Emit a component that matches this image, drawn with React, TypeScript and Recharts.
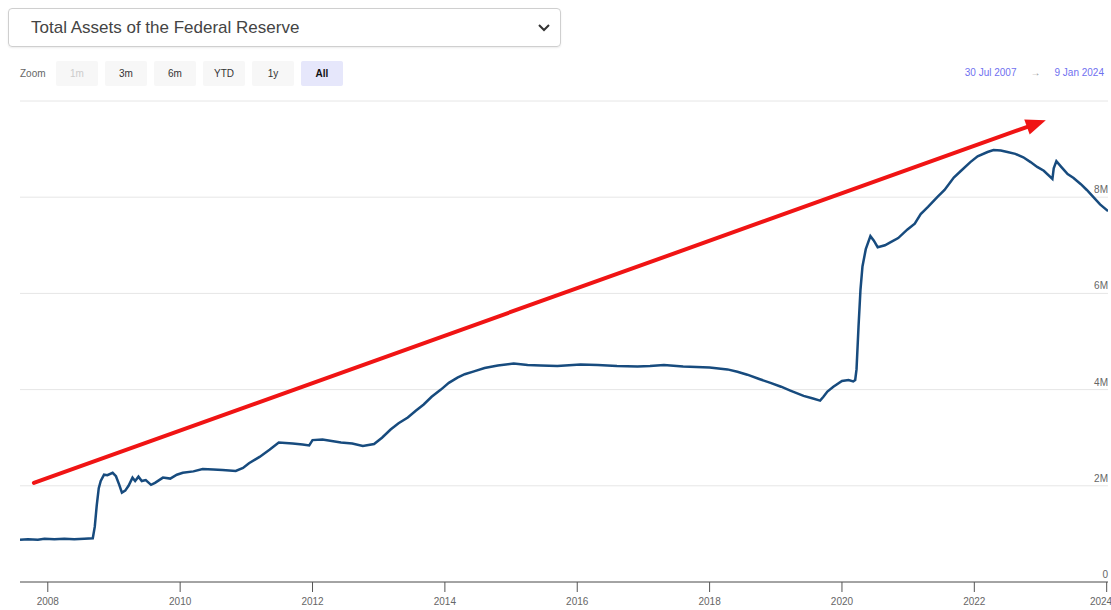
import React from "react";
import {
  LineChart,
  Line,
  XAxis,
  YAxis,
  CartesianGrid,
  ReferenceLine,
} from "recharts";

// decimal years, weekly data thinned to the visible shape
const dates = [
  2007.58, 2007.7, 2007.85, 2007.95, 2008.1, 2008.25, 2008.4, 2008.55, 2008.68,
  2008.71, 2008.74, 2008.77, 2008.8, 2008.85, 2008.9, 2008.98, 2009.03, 2009.08,
  2009.12, 2009.17, 2009.22, 2009.28, 2009.32, 2009.37, 2009.42, 2009.48, 2009.56,
  2009.62, 2009.74, 2009.85, 2009.95, 2010.04, 2010.2, 2010.34, 2010.5, 2010.64,
  2010.84, 2010.95, 2011.04, 2011.2, 2011.35, 2011.49, 2011.7, 2011.85, 2011.95,
  2012.0, 2012.15, 2012.43, 2012.6, 2012.76, 2012.93, 2013.05, 2013.18, 2013.3,
  2013.44, 2013.56, 2013.68, 2013.8, 2013.94, 2014.06, 2014.19, 2014.3, 2014.44,
  2014.6, 2014.8, 2015.04, 2015.25, 2015.45, 2015.7, 2016.05, 2016.31, 2016.6,
  2016.91, 2017.1, 2017.31, 2017.6, 2017.8, 2018.0, 2018.27, 2018.42, 2018.57,
  2018.75, 2018.92, 2019.08, 2019.22, 2019.42, 2019.55, 2019.67, 2019.72, 2019.78,
  2019.87, 2020.0, 2020.1, 2020.17, 2020.2, 2020.22, 2020.25, 2020.28, 2020.31,
  2020.36, 2020.43, 2020.48, 2020.54, 2020.65, 2020.73, 2020.85, 2020.99, 2021.1,
  2021.19, 2021.3, 2021.44, 2021.55, 2021.69, 2021.8, 2021.94, 2022.05, 2022.2,
  2022.29, 2022.4, 2022.5, 2022.62, 2022.74, 2022.85, 2022.95, 2023.05, 2023.18,
  2023.2, 2023.24, 2023.32, 2023.41, 2023.5, 2023.61, 2023.7, 2023.8, 2023.9,
  2024.02,
];

// total assets, millions of millions (M)
const assets = [
  0.88, 0.89, 0.88, 0.9, 0.89, 0.9, 0.89, 0.9, 0.91,
  1.15, 1.6, 1.95, 2.1, 2.23, 2.22, 2.27, 2.2, 2.02,
  1.86, 1.9, 2.0, 2.17, 2.1, 2.19, 2.1, 2.12, 2.02,
  2.06, 2.17, 2.15, 2.23, 2.27, 2.3, 2.35, 2.34, 2.33,
  2.31, 2.37, 2.47, 2.6, 2.75, 2.9, 2.88, 2.86, 2.84,
  2.95, 2.96, 2.9, 2.88, 2.83, 2.87, 3.0, 3.17, 3.3,
  3.42, 3.56, 3.69, 3.85, 4.0, 4.14, 4.25, 4.32, 4.38,
  4.45, 4.5, 4.54, 4.51, 4.5, 4.49, 4.52, 4.51, 4.49,
  4.48, 4.49, 4.51, 4.48, 4.47, 4.46, 4.42, 4.37, 4.31,
  4.22, 4.14, 4.06, 3.98, 3.87, 3.82, 3.77, 3.85, 3.96,
  4.06, 4.18, 4.2, 4.17, 4.2, 4.42, 5.3, 6.08, 6.56,
  6.92, 7.19, 7.1, 6.96, 7.0, 7.06, 7.15, 7.33, 7.45,
  7.65, 7.8, 8.0, 8.15, 8.41, 8.55, 8.73, 8.85, 8.94,
  8.98, 8.97, 8.94, 8.9, 8.83, 8.73, 8.63, 8.55, 8.38,
  8.6, 8.75, 8.62, 8.48, 8.4, 8.27, 8.15, 8.0, 7.85,
  7.71,
];

const yearTicks = [2008, 2010, 2012, 2014, 2016, 2018, 2020, 2022, 2024];
const valueTicks = [0, 2, 4, 6, 8, 10];
const zoomButtons = ["1m", "3m", "6m", "YTD", "1y", "All"];

// trend arrow drawn over the chart, in data units
const arrowStart = { x: 2007.79, y: 2.06 };
const arrowEnd = { x: 2023.08, y: 9.6 };

const chartData = dates.map((t, i) => ({ t, v: assets[i] }));

const FONT = "'Liberation Sans', Arial, sans-serif";

function ValueTick(props: any) {
  const { y, payload } = props;
  if (payload.value === 10) return null;
  const label = payload.value === 0 ? "0" : `${payload.value}M`;
  return (
    <text
      x={1108}
      y={y - 4}
      textAnchor="end"
      fontSize={10}
      fill="#666"
      fontFamily={FONT}
    >
      {label}
    </text>
  );
}

function Arrow(props: any) {
  const { x1, y1, x2, y2 } = props;
  const dx = x2 - x1;
  const dy = y2 - y1;
  const len = Math.sqrt(dx * dx + dy * dy);
  const ux = dx / len;
  const uy = dy / len;
  const headLen = 20;
  const headHalf = 8;
  const bx = x2 - ux * headLen;
  const by = y2 - uy * headLen;
  const pts = [
    `${x2},${y2}`,
    `${bx - uy * headHalf},${by + ux * headHalf}`,
    `${bx + uy * headHalf},${by - ux * headHalf}`,
  ].join(" ");
  return (
    <g>
      <line
        x1={x1}
        y1={y1}
        x2={bx + ux * 2}
        y2={by + uy * 2}
        stroke="#f01414"
        strokeWidth={4}
        strokeLinecap="round"
      />
      <polygon points={pts} fill="#f01414" />
    </g>
  );
}

export default function App() {
  return (
    <div
      style={{
        position: "absolute",
        left: 0,
        top: 0,
        width: 1111,
        height: 610,
        background: "#fff",
        fontFamily: FONT,
        overflow: "hidden",
      }}
    >
      <div
        style={{
          position: "absolute",
          left: 8,
          top: 8,
          width: 553,
          height: 39,
          border: "1px solid #cfcfcf",
          borderRadius: 4,
          boxShadow: "0 1px 2px rgba(0,0,0,0.08)",
          display: "flex",
          alignItems: "center",
          justifyContent: "space-between",
          boxSizing: "border-box",
          padding: "0 10px 0 22px",
          fontSize: 17,
          color: "#444",
        }}
      >
        <span>Total Assets of the Federal Reserve</span>
        <svg width={12} height={8}>
          <path d="M1 1 L6 6 L11 1" stroke="#333" strokeWidth={2} fill="none" />
        </svg>
      </div>

      <div
        style={{
          position: "absolute",
          left: 20,
          top: 61,
          height: 25,
          display: "flex",
          alignItems: "center",
          fontSize: 10,
          color: "#666",
        }}
      >
        <span style={{ width: 36 }}>Zoom</span>
        {zoomButtons.map((b, i) => {
          const active = b === "All";
          const disabled = i === 0;
          return (
            <div
              key={b}
              style={{
                width: 42,
                height: 25,
                marginRight: 7,
                borderRadius: 2,
                background: active ? "#e6e7fb" : "#f7f7f7",
                color: disabled ? "#cccccc" : active ? "#111" : "#333",
                fontWeight: active ? "bold" : "normal",
                display: "flex",
                alignItems: "center",
                justifyContent: "center",
              }}
            >
              {b}
            </div>
          );
        })}
      </div>

      <div
        style={{
          position: "absolute",
          right: 7,
          top: 67,
          fontSize: 10,
          color: "#7070f0",
          display: "flex",
          gap: 14,
        }}
      >
        <span>30 Jul 2007</span>
        <span style={{ color: "#999" }}>→</span>
        <span>9 Jan 2024</span>
      </div>

      <div style={{ position: "absolute", left: 0, top: 0 }}>
        <LineChart
          width={1111}
          height={610}
          data={chartData}
          margin={{ top: 101, right: 3, bottom: 0, left: 20 }}
        >
          <CartesianGrid vertical={false} stroke="#e6e6e6" />
          <XAxis
            dataKey="t"
            type="number"
            domain={[2007.58, 2024.02]}
            ticks={yearTicks}
            height={28}
            tickSize={10}
            tickMargin={6}
            stroke="#555"
            tick={{ fontSize: 10, fill: "#666", fontFamily: FONT }}
            tickFormatter={(v) => String(v)}
            allowDataOverflow
          />
          <YAxis
            orientation="right"
            mirror
            width={1}
            domain={[0, 10]}
            ticks={valueTicks}
            interval={0}
            axisLine={false}
            tickLine={false}
            tick={<ValueTick />}
          />
          <Line
            dataKey="v"
            type="linear"
            stroke="#174b7e"
            strokeWidth={2.5}
            dot={false}
            isAnimationActive={false}
          />
          <ReferenceLine
            segment={[arrowStart, arrowEnd]}
            ifOverflow="visible"
            shape={<Arrow />}
          />
        </LineChart>
      </div>
    </div>
  );
}
